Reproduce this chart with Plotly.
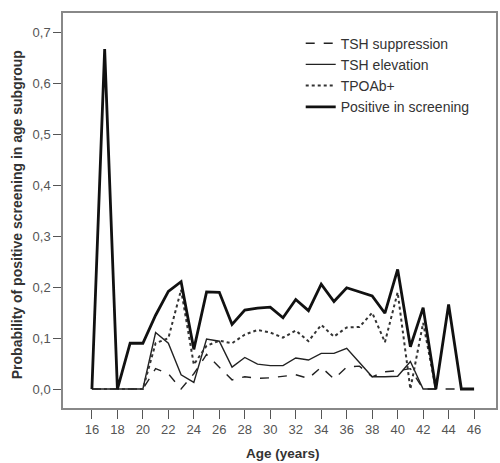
import plotly.graph_objects as go

ages = list(range(16, 47))

positive = [0, 0.668, 0, 0.09, 0.09, 0.145, 0.192, 0.211, 0.078, 0.191, 0.19, 0.127,
            0.155, 0.159, 0.161, 0.14, 0.176, 0.154, 0.206, 0.172, 0.199, 0.191, 0.183,
            0.149, 0.235, 0.083, 0.16, 0, 0.166, 0, 0]

tpoab = [0, 0, 0, 0, 0, 0.09, 0.10, 0.195, 0.048, 0.085, 0.095, 0.09,
         0.107, 0.116, 0.111, 0.101, 0.115, 0.094, 0.126, 0.103, 0.121, 0.122, 0.15,
         0.092, 0.19, 0, 0.13, 0, None, None, None]

tsh_elev = [0, 0, 0, 0, 0, 0.111, 0.09, 0.028, 0.013, 0.098, 0.094, 0.043,
            0.062, 0.049, 0.046, 0.046, 0.061, 0.057, 0.07, 0.07, 0.08, 0.052, 0.024,
            0.024, 0.025, 0.054, 0, 0, None, None, None]

tsh_supp = [0, 0, 0, 0, 0, 0.04, 0.03, 0, 0.03, 0.068, 0.043, 0.018,
            0.024, 0.021, 0.022, 0.025, 0.028, 0.021, 0.043, 0.02, 0.043, 0.045, 0.024,
            0.034, 0.036, 0.04, 0, 0, 0, 0, 0]

x_ticks = list(range(16, 47, 2))

series = [
    ("TSH suppression", tsh_supp, dict(color="#222", width=1.4, dash="dash")),
    ("TSH elevation", tsh_elev, dict(color="#222", width=1.4)),
    ("TPOAb+", tpoab, dict(color="#333", width=2, dash="dot")),
    ("Positive in screening", positive, dict(color="#111", width=2.8)),
]

fig = go.Figure()
for name, vals, line in series:
    fig.add_trace(go.Scatter(x=ages, y=vals, mode="lines", name=name, line=line,
                             connectgaps=False))

font_family = "Liberation Sans, Arial, sans-serif"

fig.update_layout(
    width=500, height=463,
    margin=dict(l=63, r=2, t=13, b=55),
    paper_bgcolor="white", plot_bgcolor="white",
    separators=", ",
    font=dict(family=font_family, size=13, color="#444"),
    showlegend=True,
    legend=dict(x=0.549, y=0.963, xanchor="left", yanchor="top",
                bgcolor="rgba(0,0,0,0)", font=dict(size=14, color="#333"),
                tracegroupgap=0, itemwidth=30),
    xaxis=dict(range=[13.73, 47.72], tickvals=x_ticks, ticktext=[str(t) for t in x_ticks],
               showgrid=False, zeroline=False, showline=True, mirror=True,
               linecolor="#888", linewidth=1.5, ticks="outside", ticklen=9,
               tickcolor="#555", tickwidth=1.2,
               tickfont=dict(size=13, color="#555")),
    yaxis=dict(range=[-0.0373, 0.739], dtick=0.1, tick0=0, tickformat=".1f",
               showgrid=False, zeroline=False, showline=True, mirror=True,
               linecolor="#888", linewidth=1.5, ticks="outside", ticklen=8,
               tickcolor="#555", tickwidth=1.2,
               tickfont=dict(size=13, color="#555")),
    annotations=[
        dict(text="<b>Age (years)</b>", xref="paper", yref="paper",
             x=0.508, y=-0.115, xanchor="center", yanchor="middle", showarrow=False,
             font=dict(size=13.5, color="#333")),
        dict(text="<b>Probability of positive screening in age subgroup</b>",
             xref="paper", yref="paper", x=-0.1057, y=0.4886, textangle=-90,
             xanchor="center", yanchor="middle", showarrow=False,
             font=dict(size=14, color="#333")),
    ],
)

fig.write_html(
    "out.html",
    config={"displayModeBar": False},
    post_script="document.body.style.margin='0';document.body.style.padding='0';"
                "document.documentElement.style.overflow='hidden';",
)
